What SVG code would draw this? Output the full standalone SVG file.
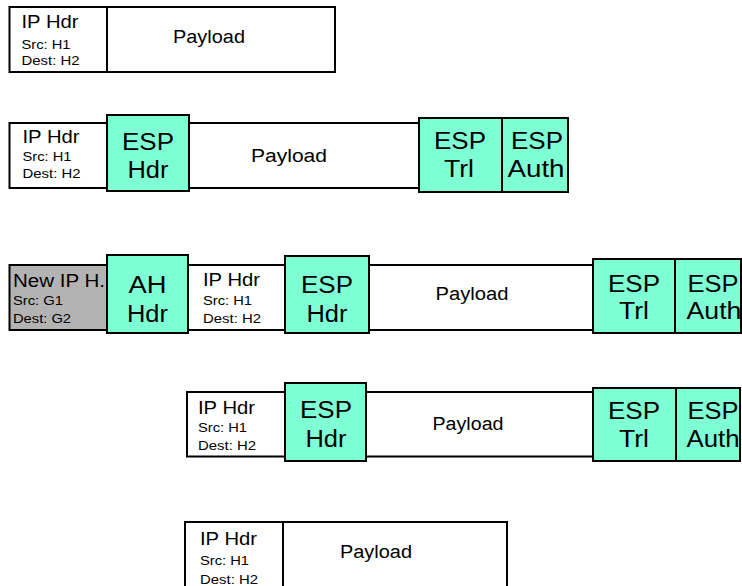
<svg xmlns="http://www.w3.org/2000/svg" width="742" height="586" viewBox="0 0 742 586">
<style>
rect{stroke:#000;stroke-width:2}
.w{fill:#fff}
.esp{fill:#7fffd4}
.g{fill:#b3b3b3}
line{stroke:#000;stroke-width:2}
text{font-family:"Liberation Sans",Arial,sans-serif;fill:#000}
.h{font-size:18px}
.s{font-size:13px}
.p{font-size:18px;text-anchor:middle}
.b{font-size:23px;text-anchor:middle}
</style>
<rect x="0" y="0" width="742" height="586" fill="#fff" style="stroke:none"/>

<g id="packet1">
  <rect class="w" x="9.5" y="7" width="325.5" height="65"/>
  <line x1="107" y1="7" x2="107" y2="72"/>
  <g id="p1-iphdr">
    <text class="h" x="21.5" y="28" textLength="57" lengthAdjust="spacingAndGlyphs">IP Hdr</text>
    <text class="s" x="21.5" y="49" textLength="49" lengthAdjust="spacingAndGlyphs">Src: H1</text>
    <text class="s" x="21.5" y="65" textLength="58" lengthAdjust="spacingAndGlyphs">Dest: H2</text>
  </g>
  <g id="p1-payload">
    <text class="p" x="209" y="43" textLength="72" lengthAdjust="spacingAndGlyphs">Payload</text>
  </g>
</g>

<g id="packet2">
  <rect class="w" x="9.5" y="123" width="409.5" height="65"/>
  <g id="p2-iphdr">
    <text class="h" x="22.5" y="143" textLength="57" lengthAdjust="spacingAndGlyphs">IP Hdr</text>
    <text class="s" x="22.5" y="161" textLength="49" lengthAdjust="spacingAndGlyphs">Src: H1</text>
    <text class="s" x="22.5" y="178" textLength="58" lengthAdjust="spacingAndGlyphs">Dest: H2</text>
  </g>
  <g id="p2-esphdr">
    <rect class="esp" x="107" y="115" width="82" height="76"/>
    <text class="b" x="148" y="150" textLength="52" lengthAdjust="spacingAndGlyphs">ESP</text>
    <text class="b" x="148" y="178" textLength="41" lengthAdjust="spacingAndGlyphs">Hdr</text>
  </g>
  <g id="p2-payload">
    <text class="p" x="289" y="162" textLength="76" lengthAdjust="spacingAndGlyphs">Payload</text>
  </g>
  <g id="p2-esptrl">
    <rect class="esp" x="419" y="118" width="83" height="74"/>
    <text class="b" x="460" y="149" textLength="52" lengthAdjust="spacingAndGlyphs">ESP</text>
    <text class="b" x="459" y="177" textLength="30" lengthAdjust="spacingAndGlyphs">Trl</text>
  </g>
  <g id="p2-espauth">
    <rect class="esp" x="502" y="118" width="66" height="74"/>
    <text class="b" x="537" y="149" textLength="52" lengthAdjust="spacingAndGlyphs">ESP</text>
    <text class="b" x="536" y="177" textLength="57" lengthAdjust="spacingAndGlyphs">Auth</text>
  </g>
</g>

<g id="packet3">
  <g id="p3-newip">
    <rect class="g" x="9.5" y="265" width="97.5" height="65"/>
    <text class="h" x="13" y="287" textLength="92" lengthAdjust="spacingAndGlyphs">New IP H.</text>
    <text class="s" x="13" y="305" textLength="50" lengthAdjust="spacingAndGlyphs">Src: G1</text>
    <text class="s" x="13" y="323" textLength="58" lengthAdjust="spacingAndGlyphs">Dest: G2</text>
  </g>
  <rect class="w" x="188" y="265" width="405" height="65"/>
  <g id="p3-ahhdr">
    <rect class="esp" x="107" y="255" width="81" height="78"/>
    <text class="b" x="147.5" y="293" textLength="38" lengthAdjust="spacingAndGlyphs">AH</text>
    <text class="b" x="147.5" y="322" textLength="41" lengthAdjust="spacingAndGlyphs">Hdr</text>
  </g>
  <g id="p3-iphdr">
    <text class="h" x="203" y="286" textLength="57" lengthAdjust="spacingAndGlyphs">IP Hdr</text>
    <text class="s" x="203" y="305" textLength="49" lengthAdjust="spacingAndGlyphs">Src: H1</text>
    <text class="s" x="203" y="323" textLength="58" lengthAdjust="spacingAndGlyphs">Dest: H2</text>
  </g>
  <g id="p3-esphdr">
    <rect class="esp" x="285" y="256" width="84" height="77"/>
    <text class="b" x="327" y="293" textLength="52" lengthAdjust="spacingAndGlyphs">ESP</text>
    <text class="b" x="327" y="322" textLength="41" lengthAdjust="spacingAndGlyphs">Hdr</text>
  </g>
  <g id="p3-payload">
    <text class="p" x="472" y="300" textLength="73" lengthAdjust="spacingAndGlyphs">Payload</text>
  </g>
  <g id="p3-esptrl">
    <rect class="esp" x="593" y="259" width="82" height="74"/>
    <text class="b" x="634" y="292" textLength="52" lengthAdjust="spacingAndGlyphs">ESP</text>
    <text class="b" x="634" y="319" textLength="30" lengthAdjust="spacingAndGlyphs">Trl</text>
  </g>
  <g id="p3-espauth">
    <rect class="esp" x="675" y="259" width="66" height="74"/>
    <text class="b" x="713" y="292" textLength="51" lengthAdjust="spacingAndGlyphs">ESP</text>
    <text class="b" x="714" y="319" textLength="55" lengthAdjust="spacingAndGlyphs">Auth</text>
  </g>
</g>

<g id="packet4">
  <rect class="w" x="187" y="392" width="406" height="64.5"/>
  <g id="p4-iphdr">
    <text class="h" x="198" y="414" textLength="57" lengthAdjust="spacingAndGlyphs">IP Hdr</text>
    <text class="s" x="198" y="432" textLength="49" lengthAdjust="spacingAndGlyphs">Src: H1</text>
    <text class="s" x="198" y="450" textLength="58" lengthAdjust="spacingAndGlyphs">Dest: H2</text>
  </g>
  <g id="p4-esphdr">
    <rect class="esp" x="285" y="383" width="81" height="78"/>
    <text class="b" x="326" y="418" textLength="52" lengthAdjust="spacingAndGlyphs">ESP</text>
    <text class="b" x="326" y="447" textLength="41" lengthAdjust="spacingAndGlyphs">Hdr</text>
  </g>
  <g id="p4-payload">
    <text class="p" x="468" y="430" textLength="71" lengthAdjust="spacingAndGlyphs">Payload</text>
  </g>
  <g id="p4-esptrl">
    <rect class="esp" x="593" y="388" width="83" height="73"/>
    <text class="b" x="634" y="419" textLength="52" lengthAdjust="spacingAndGlyphs">ESP</text>
    <text class="b" x="634" y="447" textLength="30" lengthAdjust="spacingAndGlyphs">Trl</text>
  </g>
  <g id="p4-espauth">
    <rect class="esp" x="676" y="388" width="64" height="73"/>
    <text class="b" x="713" y="419" textLength="51" lengthAdjust="spacingAndGlyphs">ESP</text>
    <text class="b" x="713" y="447" textLength="53" lengthAdjust="spacingAndGlyphs">Auth</text>
  </g>
</g>

<g id="packet5">
  <rect class="w" x="185" y="522" width="322" height="66"/>
  <line x1="283" y1="522" x2="283" y2="588"/>
  <g id="p5-iphdr">
    <text class="h" x="200" y="545" textLength="57" lengthAdjust="spacingAndGlyphs">IP Hdr</text>
    <text class="s" x="200" y="565" textLength="49" lengthAdjust="spacingAndGlyphs">Src: H1</text>
    <text class="s" x="200" y="584" textLength="58" lengthAdjust="spacingAndGlyphs">Dest: H2</text>
  </g>
  <g id="p5-payload">
    <text class="p" x="376" y="558" textLength="72" lengthAdjust="spacingAndGlyphs">Payload</text>
  </g>
</g>
</svg>
